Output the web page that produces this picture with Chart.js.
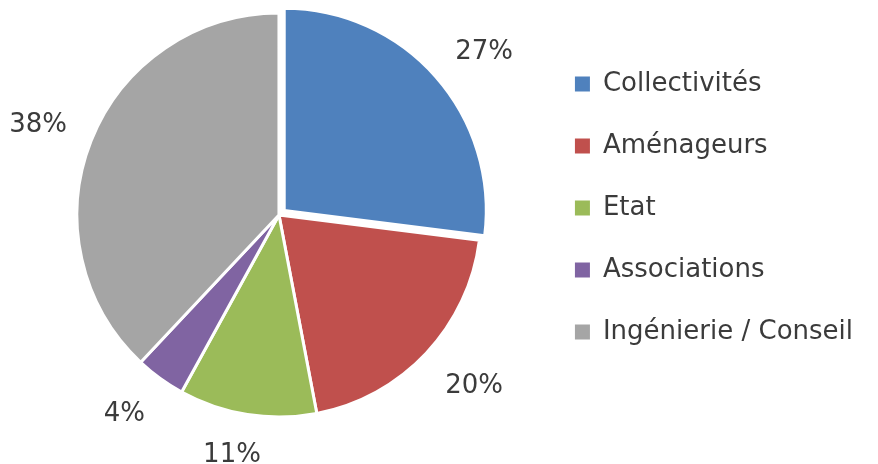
<!DOCTYPE html>
<html>
<head>
<meta charset="utf-8">
<script src="https://cdn.jsdelivr.net/npm/chart.js@4/dist/chart.umd.min.js"></script>
<style>
  html, body { margin: 0; padding: 0; background: #fff; }
  #wrap { position: relative; width: 878px; height: 464px; }
</style>
</head>
<body>
<div id="wrap"><canvas id="pieChart"></canvas></div>
<script>
const categories = ['Collectivités', 'Aménageurs', 'Etat', 'Associations', 'Ingénierie / Conseil'];
const shares = [27, 20, 11, 4, 38];
const sliceColors = ['#4F81BD', '#C0504D', '#9BBB59', '#8064A2', '#A5A5A5'];
const explode = [7, 0, 0, 0, 0]; // pixels the slice is pulled out

const textColor = '#3b3b3b';
const fontFamily = "'DejaVu Sans', sans-serif";

// percentage labels outside each slice, nearest corner of the text on the mid-angle ray
const outsideLabels = {
    id: 'outsideLabels',
    afterDatasetsDraw(chart) {
        const ctx = chart.ctx;
        const meta = chart.getDatasetMeta(0);
        const total = shares.reduce((s, v) => s + v, 0);
        const clamp = v => Math.max(-1, Math.min(1, v));
        ctx.save();
        ctx.font = '26px ' + fontFamily;
        ctx.fillStyle = textColor;
        ctx.textAlign = 'center';
        ctx.textBaseline = 'middle';
        meta.data.forEach((arc, i) => {
            const p = arc.getProps(['x', 'y', 'startAngle', 'endAngle', 'outerRadius']);
            const mid = (p.startAngle + p.endAngle) / 2;
            const c = Math.cos(mid), s = Math.sin(mid);
            const text = Math.round(shares[i] / total * 100) + '%';
            const hw = ctx.measureText(text).width / 2;
            const hh = 11;
            const r = p.outerRadius + explode[i] + 26;
            const cx = p.x + r * c;
            const cy = p.y + r * s;
            // +4: digits sit above the em-box middle
            ctx.fillText(text, cx + clamp(c * 2.5) * hw, cy + clamp(s * 2.5) * hh + 4);
        });
        ctx.restore();
    }
};

document.addEventListener('DOMContentLoaded', () => {
    const ctx = document.getElementById('pieChart').getContext('2d');

    new Chart(ctx, {
        type: 'pie',
        data: {
            labels: categories,
            datasets: [{
                data: shares,
                backgroundColor: sliceColors,
                borderColor: '#ffffff',
                borderWidth: 3,
                // arc element moves by offset / 4
                offset: explode.map(v => v * 4),
                radius: 202,
                clip: false
            }]
        },
        options: {
            responsive: true,
            maintainAspectRatio: false,
            animation: false,
            layout: {
                padding: { left: 19, right: 15, top: 35, bottom: 69 }
            },
            plugins: {
                tooltip: { enabled: false },
                legend: {
                    position: 'right',
                    align: 'start',
                    labels: {
                        color: textColor,
                        font: { family: fontFamily, size: 26 },
                        boxWidth: 15,
                        boxHeight: 15,
                        padding: 36,
                        generateLabels(chart) {
                            const items = Chart.overrides.pie.plugins.legend.labels.generateLabels(chart);
                            return items.map(it => ({ ...it, lineWidth: 0 }));
                        }
                    }
                }
            }
        },
        plugins: [outsideLabels]
    });
});
</script>
</body>
</html>
